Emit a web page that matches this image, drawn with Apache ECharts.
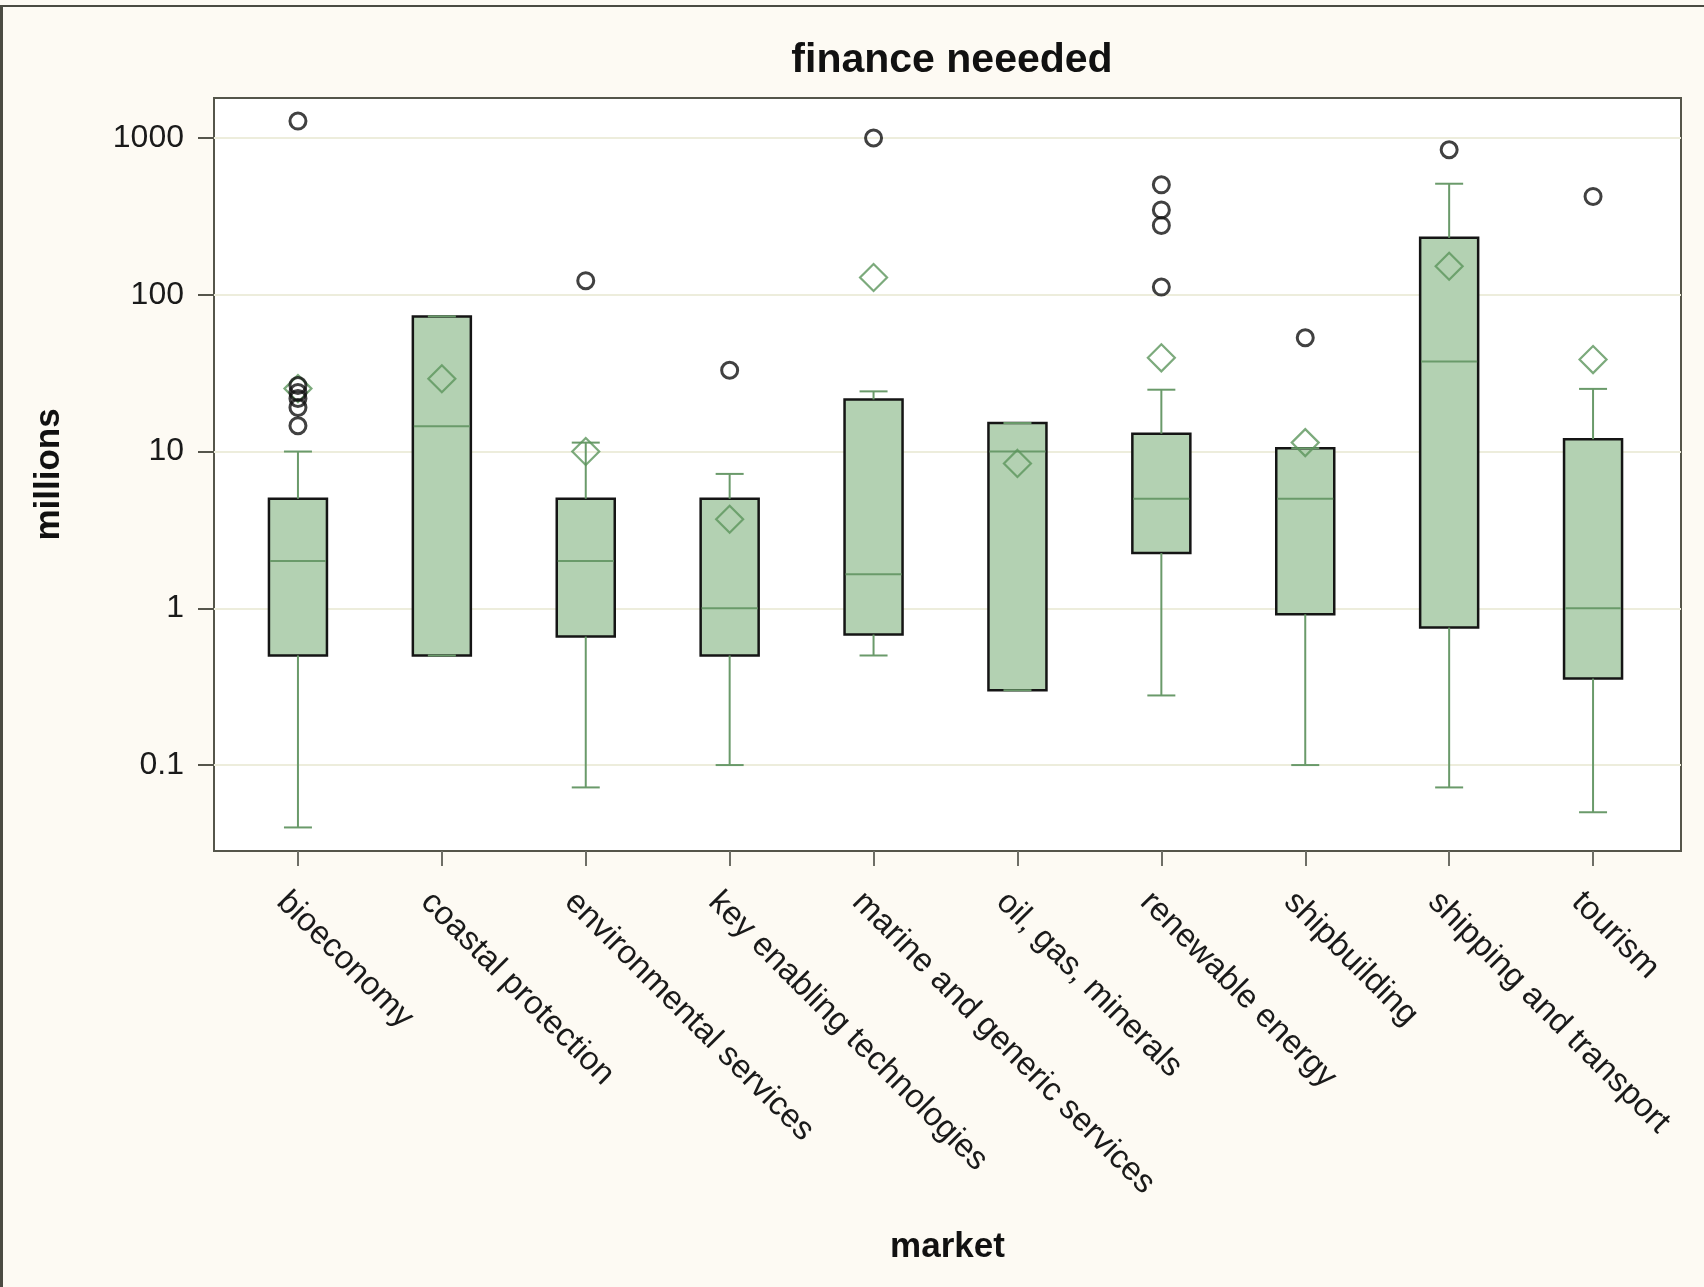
<!DOCTYPE html>
<html>
<head>
<meta charset="utf-8">
<title>finance neeeded</title>
<script src="https://cdn.jsdelivr.net/npm/echarts@6/dist/echarts.min.js"></script>
<style>
  html, body { margin: 0; padding: 0; background: #fdfaf3; }
  #chart { width: 1704px; height: 1287px; }
  #edge {
    position: absolute; left: 0; top: 5px; width: 1704px; height: 1282px;
    border-left: 3px solid #4b4b42; border-top: 2px solid #4b4b42;
    box-sizing: border-box; pointer-events: none;
  }
</style>
</head>
<body>
<div id="chart"></div>
<div id="edge"></div>
<script>
const categories = [
  'bioeconomy', 'coastal protection', 'environmental services', 'key enabling technologies',
  'marine and generic services', 'oil, gas, minerals', 'renewable energy', 'shipbuilding',
  'shipping and transport', 'tourism'
];

// box statistics, millions
const lowWhisker = [0.04, 0.5, 0.072, 0.1, 0.5, 0.3, 0.278, 0.1, 0.072, 0.05];
const q1 = [0.5, 0.5, 0.66, 0.5, 0.68, 0.3, 2.25, 0.915, 0.753, 0.356];
const median = [2, 14.5, 2, 1, 1.65, 10, 5, 5, 37.5, 1];
const q3 = [5, 72.8, 5, 5, 21.5, 15.2, 13, 10.5, 231, 12];
const highWhisker = [10, 72.8, 11.4, 7.2, 24.2, 15.2, 24.8, 10.5, 511, 25.1];
const means = [25.2, 29.1, 10, 3.7, 129, 8.4, 39.6, 11.4, 152, 38.6];

// outliers: market index + value
const outlierMarket = [0, 0, 0, 0, 0, 0, 2, 3, 4, 6, 6, 6, 6, 7, 8, 9];
const outlierValue = [1283, 26.4, 23.8, 21.8, 19.1, 14.6, 123, 33, 1000, 503, 348, 277, 112, 53.2, 842, 424];

const yTicks = [0.1, 1, 10, 100, 1000];
const yMin = 0.0283;
const yMax = 1800;

const FONT = 'Liberation Sans, Arial, sans-serif';
const BOX_FILL = '#b3d1b2';
const BOX_EDGE = '#151515';
const GREEN = '#6a9a6a';
const BOX_WIDTH = 58;
const CAP_WIDTH = 28;

const chart = echarts.init(document.getElementById('chart'));

function renderBox(params, api) {
  const i = api.value(0);
  const lo = api.coord([i, api.value(1)]);
  const b = api.coord([i, api.value(2)]);
  const m = api.coord([i, api.value(3)]);
  const t = api.coord([i, api.value(4)]);
  const hi = api.coord([i, api.value(5)]);
  const cx = b[0];
  const half = BOX_WIDTH / 2;
  const cap = CAP_WIDTH / 2;
  const green = () => ({ stroke: GREEN, lineWidth: 2 });
  return {
    type: 'group',
    children: [
      { type: 'rect', shape: { x: cx - half, y: t[1], width: BOX_WIDTH, height: b[1] - t[1] },
        style: { fill: BOX_FILL, stroke: BOX_EDGE, lineWidth: 2.5 } },
      { type: 'line', shape: { x1: cx, y1: t[1], x2: cx, y2: hi[1] }, style: green() },
      { type: 'line', shape: { x1: cx, y1: b[1], x2: cx, y2: lo[1] }, style: green() },
      { type: 'line', shape: { x1: cx - cap, y1: hi[1], x2: cx + cap, y2: hi[1] }, style: green() },
      { type: 'line', shape: { x1: cx - cap, y1: lo[1], x2: cx + cap, y2: lo[1] }, style: green() },
      { type: 'line', shape: { x1: cx - half + 1, y1: m[1], x2: cx + half - 1, y2: m[1] }, style: green() }
    ]
  };
}

const hiddenLog = (idx) => ({ type: 'log', logBase: 10, gridIndex: idx, min: yMin, max: yMax, show: false });

const option = {
  animation: false,
  backgroundColor: '#fdfaf3',
  title: {
    text: 'finance neeeded',
    left: 947,
    top: 35,
    textAlign: 'center',
    textStyle: { fontFamily: FONT, fontSize: 41, fontWeight: 'bold', color: '#111' }
  },
  grid: [
    // frame
    { left: 214, top: 98, width: 1467, height: 753, show: true, backgroundColor: '#ffffff',
      borderColor: '#55554a', borderWidth: 2 },
    // boxes
    { left: 226, top: 98, width: 1439, height: 753 },
    // rotated labels
    { left: 210, top: 98, width: 1439, height: 753 }
  ],
  xAxis: [
    {
      type: 'category', gridIndex: 0, data: categories,
      name: 'market', nameLocation: 'middle', nameGap: 379,
      nameTextStyle: { fontFamily: FONT, fontSize: 35, fontWeight: 'bold', color: '#111' },
      axisLine: { show: false }, axisTick: { show: false }, axisLabel: { show: false }, splitLine: { show: false }
    },
    {
      type: 'category', gridIndex: 1, data: categories,
      axisLine: { show: false },
      axisTick: { show: true, interval: 0, alignWithLabel: true, length: 15, lineStyle: { color: '#6e6e66', width: 2 } },
      axisLabel: { show: false, interval: 0 }
    },
    {
      type: 'category', gridIndex: 2, data: categories,
      axisLine: { show: false }, axisTick: { show: false },
      axisLabel: { interval: 0, rotate: -45, margin: 46, fontFamily: FONT, fontSize: 33, color: '#1a1a1a' }
    }
  ],
  yAxis: [
    {
      type: 'log', logBase: 10, gridIndex: 0, min: yMin, max: yMax,
      name: 'millions', nameLocation: 'middle', nameGap: 147,
      nameTextStyle: { fontFamily: FONT, fontSize: 35, fontWeight: 'bold', color: '#111' },
      axisLine: { show: false },
      axisTick: { show: true, length: 16, customValues: yTicks, lineStyle: { color: '#55554b', width: 2 } },
      axisLabel: {
        margin: 30, customValues: yTicks, fontFamily: FONT, fontSize: 32, color: '#1a1a1a',
        formatter: (v) => String(+(+v).toPrecision(3))
      },
      splitLine: { show: true, lineStyle: { color: '#ededdc', width: 2 } }
    },
    hiddenLog(1),
    hiddenLog(2)
  ],
  series: [
    {
      type: 'custom', xAxisIndex: 1, yAxisIndex: 1, silent: true,
      renderItem: renderBox,
      encode: { x: 0, y: [1, 2, 3, 4, 5] },
      data: categories.map((c, i) => [i, lowWhisker[i], q1[i], median[i], q3[i], highWhisker[i]]),
      z: 2
    },
    {
      name: 'mean', type: 'scatter', xAxisIndex: 1, yAxisIndex: 1, silent: true,
      symbol: 'diamond', symbolSize: 27,
      itemStyle: { color: 'rgba(0,0,0,0)', borderColor: '#5b955b', borderWidth: 2.2 },
      data: means.map((v, i) => [i, v]),
      z: 3
    },
    {
      name: 'outlier', type: 'scatter', xAxisIndex: 1, yAxisIndex: 1, silent: true,
      symbol: 'circle', symbolSize: 16,
      itemStyle: { color: 'rgba(0,0,0,0)', borderColor: '#111111', borderWidth: 3 },
      data: outlierMarket.map((m, i) => [m, outlierValue[i]]),
      z: 4
    }
  ]
};

chart.setOption(option);
</script>
</body>
</html>
